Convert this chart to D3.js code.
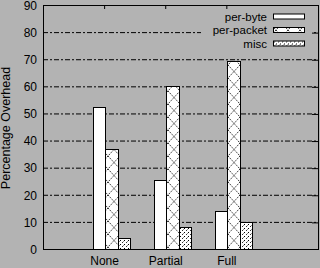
<!DOCTYPE html>
<meta charset="utf-8">
<style>
body { margin: 0; background: #b3b3b3; }
svg { display: block; }
text { font-family: "Liberation Sans", Arial, sans-serif; fill: #000; }
.grid line { stroke: #000; stroke-width: 1; stroke-dasharray: 5,2,2,2; }
</style>
<svg width="320" height="268"></svg>
<script src="https://d3js.org/d3.v7.min.js"></script>
<script>

// chart values
var categories = ["None", "Partial", "Full"];
var seriesNames = ["per-byte", "per-packet", "misc"];
var perByte = [52.5, 25.5, 14];
var perPacket = [37, 60, 69.5];
var misc = [4, 8, 9.8];
var yTicks = [0, 10, 20, 30, 40, 50, 60, 70, 80, 90];

var svg = d3.select("svg"),
  width = +svg.attr("width"),
  height = +svg.attr("height");

svg.append("rect").attr("width", width).attr("height", height).attr("fill", "#b3b3b3");

var x = d3.scaleLinear().domain([0, 4.5]).range([43, 318]);
var y = d3.scaleLinear().domain([0, 90]).range([249, 5]);

// fill patterns
var defs = svg.append("defs");
var cross = defs.append("pattern")
  .attr("id", "cross").attr("patternUnits", "userSpaceOnUse")
  .attr("width", 12).attr("height", 13);
cross.append("rect").attr("width", 12).attr("height", 13).attr("fill", "#fff");
cross.append("path").attr("d", "M0,0L12,13M12,0L0,13")
  .attr("stroke", "#000").attr("stroke-width", 0.8).attr("stroke-dasharray", "1.5,1");

var dots = defs.append("pattern")
  .attr("id", "dots").attr("patternUnits", "userSpaceOnUse")
  .attr("width", 4).attr("height", 4);
dots.append("rect").attr("width", 4).attr("height", 4).attr("fill", "#fff");
dots.append("rect").attr("x", 0).attr("y", 0).attr("width", 1).attr("height", 1).attr("fill", "#000");
dots.append("rect").attr("x", 2).attr("y", 2).attr("width", 1).attr("height", 1).attr("fill", "#333");
dots.append("rect").attr("x", 3).attr("y", 1).attr("width", 0.8).attr("height", 0.8).attr("fill", "#555");

var fills = ["#fff", "url(#cross)", "url(#dots)"];

// grid
svg.append("g").attr("class", "grid")
  .selectAll("line")
  .data(yTicks.slice(1, -1))
  .enter().append("line")
  .attr("x1", x(0)).attr("x2", x(4.5))
  .attr("y1", function(d) { return y(d) + 0.5; })
  .attr("y2", function(d) { return y(d) + 0.5; });

// legend area clears the grid under it
svg.append("rect")
  .attr("x", 201).attr("y", 8).attr("width", 111).attr("height", 43)
  .attr("fill", "#b3b3b3");

// bars
var barW = 0.205;
var series = [perByte, perPacket, misc];
series.forEach(function(vals, s) {
  svg.append("g").selectAll("rect")
    .data(vals)
    .enter().append("rect")
    .attr("x", function(d, i) { return Math.round(x(i + 1 - 0.19 + s * barW)) + 0.5; })
    .attr("width", function(d, i) {
      return Math.round(x(i + 1 - 0.19 + (s + 1) * barW)) - Math.round(x(i + 1 - 0.19 + s * barW));
    })
    .attr("y", function(d) { return Math.round(y(d)) + 0.5; })
    .attr("height", function(d) { return Math.round(y(0)) - Math.round(y(d)); })
    .attr("fill", fills[s])
    .attr("stroke", "#000").attr("stroke-width", 1);
});

// axes
var yAxisL = d3.axisLeft(y).tickValues(yTicks).tickSize(0).tickPadding(6);
var gy = svg.append("g").attr("transform", "translate(43,0)").call(yAxisL);
gy.select(".domain").remove();
gy.selectAll("text").attr("font-size", "12px").attr("dy", "0.36em");

var yAxisR = d3.axisRight(y).tickValues(yTicks.slice(1, -1)).tickSize(-6).tickFormat("");
var gr = svg.append("g").attr("transform", "translate(318,0)").call(yAxisR);
gr.select(".domain").remove();
gr.selectAll("line").attr("transform", "translate(0,0.5)");

var xAxisB = d3.axisBottom(x).tickValues([1, 2, 3])
  .tickFormat(function(d) { return categories[d - 1]; })
  .tickSize(0).tickPadding(7.5);
var gx = svg.append("g").attr("transform", "translate(0,249)").call(xAxisB);
gx.select(".domain").remove();
gx.selectAll("text").attr("font-size", "12px");

var xAxisT = d3.axisTop(x).tickValues([1, 2, 3]).tickSize(-4).tickFormat("");
var gt = svg.append("g").attr("transform", "translate(0,5)").call(xAxisT);
gt.select(".domain").remove();

// frame
svg.append("rect")
  .attr("x", x(0) + 0.5).attr("y", y(90) + 0.5)
  .attr("width", x(4.5) - x(0)).attr("height", y(0) - y(90))
  .attr("fill", "none").attr("stroke", "#000").attr("stroke-width", 1);

// y title
svg.append("text")
  .attr("transform", "translate(10,128) rotate(-90)")
  .attr("text-anchor", "middle")
  .attr("font-size", "12.5px")
  .text("Percentage Overhead");

// legend
var legend = svg.append("g").selectAll("g")
  .data(seriesNames)
  .enter().append("g")
  .attr("transform", function(d, i) { return "translate(0," + (16.5 + i * 13.5) + ")"; });

legend.append("text")
  .attr("x", 267).attr("y", 4)
  .attr("text-anchor", "end")
  .attr("font-size", "11.5px")
  .text(function(d) { return d; });

legend.append("rect")
  .attr("x", 273.5).attr("y", -2.5).attr("width", 31).attr("height", 5)
  .attr("fill", function(d, i) { return fills[i]; })
  .attr("stroke", "#000").attr("stroke-width", 1);

</script>
